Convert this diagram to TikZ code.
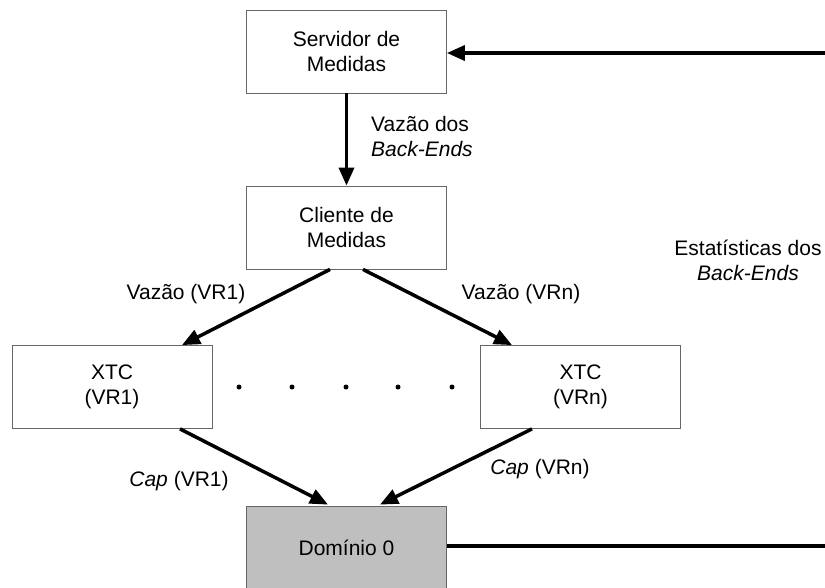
\documentclass[tikz,border=0pt]{standalone}
\usepackage{fontspec}
\setmainfont{Liberation Sans}
\usetikzlibrary{arrows.meta,calc}
\begin{document}
\begin{tikzpicture}[x=1pt,y=-1pt,
  box/.style={draw=black!60,line width=0.8pt,minimum width=200pt,minimum height=83pt,align=center,inner sep=0pt,font=\fontsize{21}{25}\selectfont},
  lbl/.style={align=center,inner sep=0pt,font=\fontsize{21}{25}\selectfont},
  arr/.style={line width=3.5pt,-{Triangle[length=18pt,width=15pt]}},
  plain/.style={line width=3.5pt},
  dot/.style={circle,fill=black,inner sep=0pt,minimum size=5pt}]
\useasboundingbox (0,0) rectangle (825,587);
\node[box] (serv) at (346.5,51.5) {Servidor de\\Medidas};
\node[box] (cli) at (346.5,227.5) {Cliente de\\Medidas};
\node[box] (x1) at (112,387) {XTC\\(VR1)};
\node[box] (xn) at (580.5,387) {XTC\\(VRn)};
\node[box,fill=black!25] (dom) at (346.5,547.5) {Domínio 0};
\node[dot] (d1) at (239,387) {};
\node[dot] (d2) at (292,387) {};
\node[dot] (d3) at (346,387) {};
\node[dot] (d4) at (398,387) {};
\node[dot] (d5) at (452,387) {};
\coordinate (r1) at (830,53);
\coordinate (r2) at (830,546);
\draw[arr] (serv.south) -- (cli.north);
\draw[arr] ($(cli.south)+(-16.5,0)$) -- ($(x1.north)+(70,0)$);
\draw[arr] ($(cli.south)+(16.5,0)$) -- ($(xn.north)+(-68.5,0)$);
\draw[arr] ($(x1.south)+(68,0)$) -- ($(dom.north)+(-18.5,-1)$);
\draw[arr] ($(xn.south)+(-48.5,0)$) -- ($(dom.north)+(33.5,-1)$);
\draw[arr] (r1) -- (serv.east |- r1);
\draw[plain] (dom.east |- r2) -- (r2);
\node[lbl,anchor=west,align=left] (l1) at (371,136.5) {Vazão dos\\\itshape Back-Ends};
\node[lbl] (l2) at (186,294) {Vazão (VR1)};
\node[lbl] (l3) at (521,294) {Vazão (VRn)};
\node[lbl] (l4) at (179,481) {\itshape Cap\upshape{} (VR1)};
\node[lbl] (l5) at (540,469) {\itshape Cap\upshape{} (VRn)};
\node[lbl] (l6) at (748,260) {Estatísticas dos\\\itshape Back-Ends};
\end{tikzpicture}
\end{document}
